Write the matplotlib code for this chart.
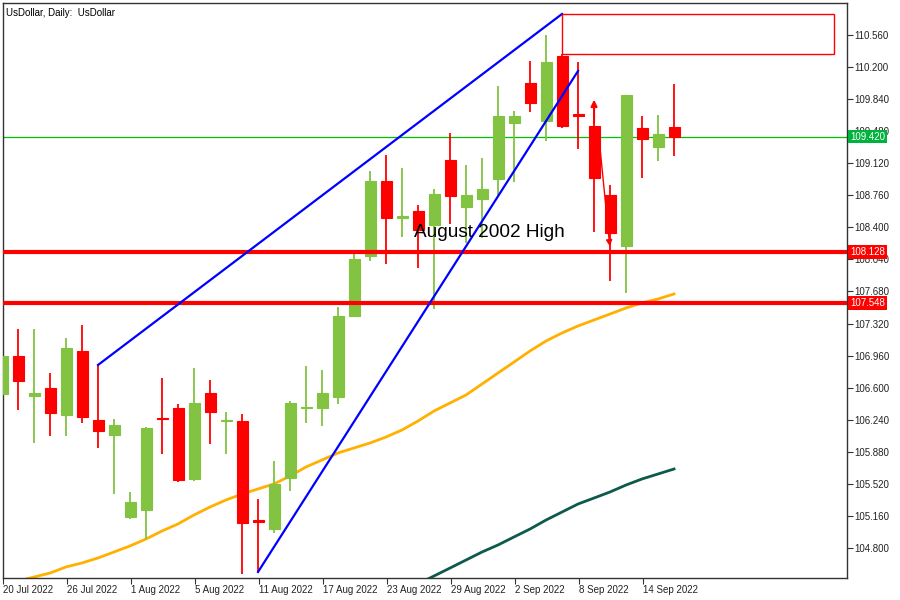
import matplotlib
matplotlib.use("Agg")
import matplotlib.pyplot as plt
import matplotlib.transforms as mtransforms
from matplotlib.patches import Rectangle
import numpy as np
import pandas as pd

plt.rcParams["font.family"] = ["Liberation Sans", "DejaVu Sans"]

dates = pd.bdate_range("2022-07-20", "2022-09-16")

opens = [106.529, 106.956, 106.507, 106.597, 106.293, 107.012, 106.237, 106.069, 105.148, 105.227,
         106.260, 106.372, 105.575, 106.540, 106.226, 106.226, 105.114, 105.013, 105.586, 106.372,
         106.372, 106.495, 107.405, 108.079, 108.921, 108.505, 108.584, 108.427, 109.157, 108.629,
         108.719, 108.943, 109.572, 110.021, 109.594, 110.324, 109.673, 109.538, 108.764, 108.191,
         109.516, 109.303, 109.527]
highs = [106.956, 107.259, 107.259, 106.765, 107.158, 107.304, 106.855, 106.248, 105.429, 106.158,
         106.709, 106.417, 106.821, 106.686, 106.327, 106.305, 105.350, 105.777, 106.451, 106.844,
         106.799, 107.506, 108.112, 109.033, 109.213, 109.067, 108.651, 108.831, 109.460, 109.100,
         109.179, 109.987, 109.707, 110.268, 110.560, 110.347, 110.257, 109.606, 108.876, 109.886,
         109.651, 109.662, 110.010]
lows = [106.529, 106.350, 105.979, 106.058, 106.058, 106.204, 105.923, 105.406, 105.126, 104.901,
        105.855, 105.541, 105.552, 105.968, 105.855, 104.508, 104.531, 104.968, 105.440, 106.204,
        106.170, 106.417, 107.405, 108.022, 107.989, 108.292, 107.944, 107.484, 108.438, 108.225,
        108.281, 108.764, 108.910, 109.695, 109.370, 109.516, 109.280, 108.348, 107.798, 107.663,
        108.954, 109.145, 109.201]
closes = [106.956, 106.675, 106.540, 106.316, 107.046, 106.271, 106.114, 106.181, 105.317, 106.147,
          106.249, 105.564, 106.428, 106.327, 106.237, 105.081, 105.092, 105.519, 106.428, 106.383,
          106.540, 107.405, 108.045, 108.921, 108.505, 108.528, 108.371, 108.775, 108.752, 108.764,
          108.831, 109.651, 109.651, 109.797, 110.257, 109.538, 109.651, 108.954, 108.337, 109.886,
          109.392, 109.448, 109.420]

ma_fast = [104.385, 104.430, 104.474, 104.519, 104.587, 104.632, 104.688, 104.755, 104.823, 104.901,
           104.991, 105.070, 105.171, 105.260, 105.339, 105.406, 105.463, 105.519, 105.608, 105.710,
           105.788, 105.867, 105.923, 105.979, 106.046, 106.125, 106.226, 106.338, 106.428, 106.518,
           106.641, 106.765, 106.888, 107.012, 107.124, 107.214, 107.293, 107.360, 107.427, 107.495,
           107.551, 107.596, 107.652]
ma_slow_start = 25
ma_slow = [104.306, 104.396, 104.486, 104.575, 104.665, 104.755, 104.834, 104.924, 105.013, 105.114,
           105.204, 105.294, 105.361, 105.429, 105.507, 105.575, 105.631, 105.687]

levels_red = [108.128, 107.548]
level_last = 109.420

y_ticks = [110.560, 110.200, 109.840, 109.480, 109.120, 108.760, 108.400, 108.040, 107.680,
           107.320, 106.960, 106.600, 106.240, 105.880, 105.520, 105.160, 104.800]
x_tick_idx = [0, 4, 8, 12, 16, 20, 24, 28, 32, 36, 40]

GREEN = "#82C341"
RED = "#FF0000"

fig = plt.figure(figsize=(9, 6), dpi=100)
ax = fig.add_axes([3 / 900, 22 / 600, 844 / 900, 575 / 600])

x = np.arange(len(opens))
o = np.array(opens)
c = np.array(closes)
colors = [GREEN if cc >= oo else RED for oo, cc in zip(o, c)]

# moving averages
ax.plot(x, ma_fast, color="#FFB000", lw=2, zorder=2)
ax.plot(np.arange(ma_slow_start, ma_slow_start + len(ma_slow)), ma_slow, color="#0B5A4C", lw=2, zorder=2)

# candles
ax.vlines(x, lows, highs, colors=colors, lw=1.3, zorder=3)
ax.bar(x, np.abs(c - o), bottom=np.minimum(o, c), width=0.69, color=colors,
       edgecolor=colors, linewidth=0.8, zorder=3)

# horizontal levels
for lv in levels_red:
    ax.axhline(lv, color=RED, lw=3, zorder=4)
ax.axhline(level_last, color="#00C000", lw=0.9, zorder=2)

# trend lines
ax.plot([6, 35], [106.855, 110.796], color="#0000FF", lw=1.6, zorder=4)
ax.plot([16, 36], [104.531, 110.156], color="#0000FF", lw=1.6, zorder=4)

# supply box
ax.add_patch(Rectangle((35, 110.347), 17, 110.796 - 110.347, fill=False,
                       edgecolor=RED, lw=1, zorder=4))

# arrows
ax.annotate("", xy=(37, 109.864), xytext=(37, 109.538),
            arrowprops=dict(arrowstyle="-|>", color=RED, lw=1.5, mutation_scale=9), zorder=5)
ax.annotate("", xy=(38, 108.157), xytext=(37.25, 109.516),
            arrowprops=dict(arrowstyle="-|>", color=RED, lw=1.0, mutation_scale=9), zorder=5)

ax.text(25.75, 108.292, "August 2002 High", fontsize=13.7, color="black",
        ha="left", va="baseline", zorder=6)

ax.text(0.004, 0.992, "UsDollar, Daily:  UsDollar", transform=ax.transAxes,
        fontsize=7, ha="left", va="top", color="black")

ax.set_xlim(0.06, 52.81)
ax.set_ylim(104.463, 110.919)

ax.yaxis.tick_right()
ax.set_yticks(y_ticks)
ax.set_yticklabels([f"{v:.3f}" for v in y_ticks], fontsize=7, color="#222222")
ax.set_xticks([i + 0.06 for i in x_tick_idx])
ax.set_xticklabels([f"{dates[i].day} {dates[i]:%b %Y}" for i in x_tick_idx], fontsize=7,
                   color="#222222", ha="left")
ax.tick_params(axis="both", length=4, width=0.8, color="#333333", pad=1)
for s in ax.spines.values():
    s.set_color("#333333")
    s.set_linewidth(1)

trans = mtransforms.blended_transform_factory(ax.transAxes, ax.transData)
for lv, col in [(level_last, "#00B33C"), (levels_red[0], RED), (levels_red[1], RED)]:
    ax.text(1.004, lv, f"{lv:.3f}", transform=trans, fontsize=7, color="white",
            ha="left", va="center", clip_on=False, zorder=10,
            bbox=dict(boxstyle="square,pad=0.2", facecolor=col, edgecolor="none"))

fig.savefig("out.png", dpi=100)
